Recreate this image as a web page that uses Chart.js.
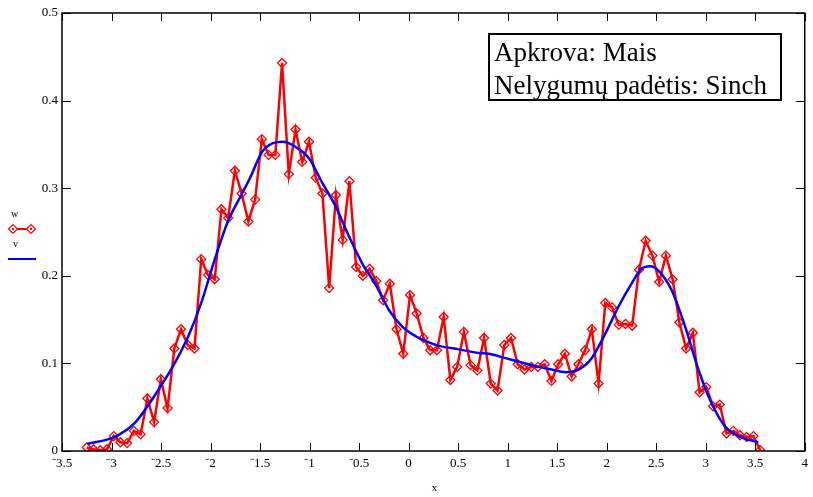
<!DOCTYPE html>
<html>
<head>
<meta charset="utf-8">
<script src="https://cdn.jsdelivr.net/npm/chart.js@4.4.1/dist/chart.umd.min.js"></script>
<style>
  html, body { margin: 0; padding: 0; background: #fff; }
  #wrap { width: 813px; height: 497px; }
</style>
</head>
<body>
<div id="wrap"><canvas id="chart" width="813" height="497"></canvas></div>
<script>
// x positions of the measured points (w)
const xW = [
  -3.25, -3.182, -3.114, -3.046, -2.978, -2.91, -2.842, -2.774, -2.706, -2.638,
  -2.57, -2.502, -2.434, -2.366, -2.298, -2.23, -2.162, -2.094, -2.026, -1.958,
  -1.89, -1.822, -1.754, -1.686, -1.618, -1.55, -1.482, -1.414, -1.346, -1.278,
  -1.21, -1.142, -1.074, -1.006, -0.938, -0.87, -0.802, -0.734, -0.666, -0.598,
  -0.53, -0.462, -0.394, -0.326, -0.258, -0.19, -0.122, -0.054, 0.014, 0.082,
  0.15, 0.218, 0.286, 0.354, 0.422, 0.49, 0.558, 0.626, 0.694, 0.762,
  0.83, 0.898, 0.966, 1.034, 1.102, 1.17, 1.238, 1.306, 1.374, 1.442,
  1.51, 1.578, 1.646, 1.714, 1.782, 1.85, 1.918, 1.986, 2.054, 2.122,
  2.19, 2.258, 2.326, 2.394, 2.462, 2.53, 2.598, 2.666, 2.734, 2.802,
  2.87, 2.938, 3.006, 3.074, 3.142, 3.21, 3.278, 3.346, 3.414, 3.482,
  3.55
];
// measured values (red, diamonds)
const wValues = [
  0.004, 0.002, 0.001, 0.002, 0.017, 0.010, 0.009, 0.023, 0.019, 0.060,
  0.033, 0.082, 0.049, 0.117, 0.139, 0.121, 0.117, 0.219, 0.201, 0.196,
  0.276, 0.266, 0.320, 0.294, 0.262, 0.287, 0.356, 0.338, 0.338, 0.443,
  0.316, 0.367, 0.330, 0.353, 0.312, 0.294, 0.186, 0.292, 0.241, 0.308,
  0.210, 0.200, 0.208, 0.194, 0.172, 0.191, 0.139, 0.111, 0.178, 0.157,
  0.129, 0.115, 0.115, 0.153, 0.081, 0.096, 0.136, 0.098, 0.092, 0.129,
  0.077, 0.069, 0.121, 0.129, 0.099, 0.093, 0.096, 0.096, 0.099, 0.080,
  0.099, 0.111, 0.085, 0.099, 0.115, 0.139, 0.077, 0.169, 0.164, 0.144,
  0.145, 0.143, 0.207, 0.240, 0.223, 0.193, 0.223, 0.196, 0.147, 0.117,
  0.135, 0.067, 0.073, 0.051, 0.053, 0.020, 0.023, 0.018, 0.016, 0.017,
  0.001
];

// smooth curve (blue)
const xV = [
  -3.243, -2.968, -2.766, -2.497, -2.363, -2.228, -2.094, -1.96, -1.825, -1.691,
  -1.6, -1.476, -1.274, -1.139, -1.005, -0.871, -0.736, -0.602, -0.468, -0.333,
  -0.199, -0.064, 0.071, 0.205, 0.306, 0.507, 0.709, 0.81, 0.978, 1.112,
  1.313, 1.445, 1.583, 1.717, 1.848, 1.986, 2.12, 2.251, 2.352, 2.44,
  2.523, 2.654, 2.792, 2.926, 3.057, 3.196, 3.33, 3.531
];
const vValues = [
  0.008, 0.016, 0.032, 0.075, 0.100, 0.130, 0.169, 0.218, 0.262, 0.292,
  0.312, 0.342, 0.353, 0.347, 0.334, 0.306, 0.279, 0.245, 0.214, 0.190,
  0.161, 0.142, 0.131, 0.124, 0.120, 0.116, 0.112, 0.111, 0.106, 0.102,
  0.096, 0.093, 0.090, 0.093, 0.106, 0.134, 0.165, 0.191, 0.208, 0.211,
  0.206, 0.184, 0.142, 0.093, 0.055, 0.028, 0.017, 0.010
];

const boxLines = ["Apkrova: Mais", "Nelygumų padėtis: Sinch"];
const serif = "'Liberation Serif', 'Times New Roman', serif";

const fmt = (v) => {
  const r = Math.round(v * 10) / 10;
  return r < 0 ? "\u207B" + Math.abs(r) : String(r);
};

// frame, inward ticks, legend, text box, axis name
const decor = {
  id: "decor",
  afterDraw(chart) {
    const ctx = chart.ctx;
    const a = chart.chartArea;
    const xs = chart.scales.x, ys = chart.scales.y;
    ctx.save();
    ctx.strokeStyle = "#000";
    ctx.lineWidth = 1.5;
    ctx.strokeRect(a.left, a.top, a.right - a.left, a.bottom - a.top);
    ctx.lineWidth = 1;
    ctx.beginPath();
    xs.ticks.forEach(t => {
      const p = Math.round(xs.getPixelForValue(t.value)) + 0.5;
      ctx.moveTo(p, a.bottom); ctx.lineTo(p, a.bottom - 8);
      ctx.moveTo(p, a.top); ctx.lineTo(p, a.top + 8);
    });
    ys.ticks.forEach(t => {
      const p = Math.round(ys.getPixelForValue(t.value)) + 0.5;
      ctx.moveTo(a.left, p); ctx.lineTo(a.left + 9, p);
      ctx.moveTo(a.right, p); ctx.lineTo(a.right - 9, p);
    });
    ctx.stroke();

    // axis name
    ctx.fillStyle = "#000";
    ctx.font = "11px " + serif;
    ctx.textAlign = "center";
    ctx.textBaseline = "middle";
    ctx.fillText("x", (a.left + a.right) / 2 + 1, 488);

    // legend
    ctx.textAlign = "left";
    ctx.font = "10px " + serif;
    ctx.fillText("w", 11, 214);
    ctx.fillText("v", 13, 244);
    ctx.strokeStyle = "#ff0000";
    ctx.lineWidth = 2;
    ctx.beginPath(); ctx.moveTo(9, 229); ctx.lineTo(35, 229); ctx.stroke();
    ctx.lineWidth = 1.2;
    [13, 31].forEach(cx => {
      ctx.beginPath();
      ctx.moveTo(cx - 4.5, 229); ctx.lineTo(cx, 224.5);
      ctx.lineTo(cx + 4.5, 229); ctx.lineTo(cx, 233.5); ctx.closePath();
      ctx.fillStyle = "#fff"; ctx.fill(); ctx.stroke();
    });
    ctx.fillStyle = "#ff0000";
    ctx.fillRect(12, 228, 2, 2); ctx.fillRect(30, 228, 2, 2);
    ctx.strokeStyle = "#0000ff";
    ctx.lineWidth = 2;
    ctx.beginPath(); ctx.moveTo(8, 259); ctx.lineTo(36, 259); ctx.stroke();

    // text box
    ctx.strokeStyle = "#000";
    ctx.lineWidth = 2;
    ctx.fillStyle = "#fff";
    ctx.fillRect(489, 34, 292, 66);
    ctx.strokeRect(489, 34, 292, 66);
    ctx.fillStyle = "#000";
    ctx.font = "27px " + serif;
    ctx.textBaseline = "alphabetic";
    ctx.fillText(boxLines[0], 494, 61);
    ctx.fillText(boxLines[1], 494, 94);
    ctx.restore();
  }
};

new Chart(document.getElementById("chart"), {
  type: "scatter",
  data: {
    datasets: [
      {
        label: "w",
        data: xW.map((x, i) => ({ x: x, y: wValues[i] })),
        showLine: true,
        borderColor: "#ff0000",
        borderWidth: 2.5,
        pointStyle: "rectRot",
        pointRadius: 4.5,
        pointBorderWidth: 1.3,
        pointBorderColor: "#ff0000",
        pointBackgroundColor: "rgba(255,255,255,0)",
        tension: 0,
        order: 1
      },
      {
        label: "v",
        data: xV.map((x, i) => ({ x: x, y: vValues[i] })),
        showLine: true,
        borderColor: "#0000ff",
        borderWidth: 2.5,
        pointRadius: 0,
        cubicInterpolationMode: "monotone",
        order: 0
      }
    ]
  },
  options: {
    responsive: false,
    animation: false,
    layout: { padding: { left: 0, top: 13, right: 7, bottom: 0 } },
    plugins: { legend: { display: false }, tooltip: { enabled: false } },
    scales: {
      x: {
        type: "linear",
        min: -3.5,
        max: 4,
        grid: { display: false, drawTicks: false, tickLength: 0 },
        border: { display: false },
        ticks: {
          stepSize: 0.5,
          color: "#000",
          padding: 5,
          maxRotation: 0,
          font: { family: serif, size: 13 },
          callback: (v) => fmt(v)
        },
        afterFit: (s) => { s.height = 46; }
      },
      y: {
        min: 0,
        max: 0.5,
        grid: { display: false, drawTicks: false, tickLength: 0 },
        border: { display: false },
        ticks: {
          stepSize: 0.1,
          color: "#000",
          padding: 4,
          font: { family: serif, size: 13 },
          callback: (v) => fmt(v)
        },
        afterFit: (s) => { s.width = 62; }
      }
    }
  },
  plugins: [decor]
});
</script>
</body>
</html>
